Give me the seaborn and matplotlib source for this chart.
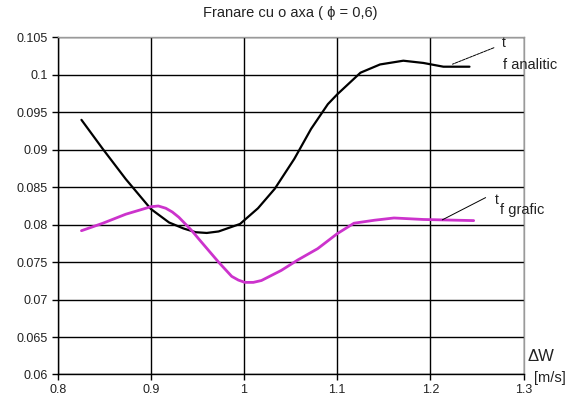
import matplotlib
matplotlib.use("Agg")
import matplotlib.pyplot as plt
import seaborn as sns
import pandas as pd

# Data
x_analitic = [0.8255, 0.8485, 0.873, 0.900, 0.9195, 0.935, 0.948, 0.960, 0.9727, 0.9957, 1.015, 1.033,
              1.054, 1.072, 1.090, 1.100, 1.125, 1.146, 1.171, 1.1925, 1.214, 1.242]
y_analitic = [0.0940, 0.0901, 0.0861, 0.0821, 0.0803, 0.0795, 0.0790, 0.0789, 0.0791, 0.0801, 0.0822, 0.0848,
              0.0888, 0.0928, 0.0961, 0.0974, 0.1003, 0.1014, 0.1019, 0.1016, 0.1011, 0.1011]

x_grafic = [0.8255, 0.8485, 0.873, 0.900, 0.908, 0.916, 0.923, 0.930, 0.944, 0.9514, 0.9727, 0.9868,
            0.994, 1.001, 1.010, 1.0187, 1.040, 1.0578, 1.079, 1.100, 1.118, 1.140, 1.161, 1.1925, 1.2465]
y_grafic = [0.0792, 0.0802, 0.0814, 0.0824, 0.0825, 0.0822, 0.0817, 0.0810, 0.0792, 0.0781, 0.0750, 0.0731,
            0.0726, 0.0723, 0.0723, 0.07255, 0.0739, 0.0753, 0.0768, 0.0788, 0.0802, 0.0806, 0.0809, 0.0807, 0.08055]

x_ticks = [0.8, 0.9, 1.0, 1.1, 1.2, 1.3]
x_tick_labels = ["0.8", "0.9", "1", "1.1", "1.2", "1.3"]
y_ticks = [0.06, 0.065, 0.07, 0.075, 0.08, 0.085, 0.09, 0.095, 0.1, 0.105]
y_tick_labels = ["0.06", "0.065", "0.07", "0.075", "0.08", "0.085", "0.09", "0.095", "0.1", "0.105"]

title_left = "Franare cu o axa ( "
title_phi = "\u03d5"
title_right = " = 0,6)"

df_a = pd.DataFrame({"x": x_analitic, "y": y_analitic})
df_g = pd.DataFrame({"x": x_grafic, "y": y_grafic})

sns.set_style("white")
plt.rcParams['font.family'] = ['Liberation Sans', 'DejaVu Sans']

fig = plt.figure(figsize=(5.8, 4.01), dpi=100)
ax = fig.add_axes([0.0995, 0.0661, 0.8031, 0.8404])

sns.lineplot(data=df_a, x="x", y="y", ax=ax, color="black", linewidth=1.6, sort=False)
sns.lineplot(data=df_g, x="x", y="y", ax=ax, color="#cc33cc", linewidth=2.0, sort=False)

ax.set_xlim(0.8, 1.3)
ax.set_ylim(0.06, 0.105)
ax.set_xticks(x_ticks)
ax.set_xticklabels(x_tick_labels)
ax.set_yticks(y_ticks)
ax.set_yticklabels(y_tick_labels)
ax.set_xlabel("")
ax.set_ylabel("")

ax.grid(True, color="black", linewidth=1.0)
ax.set_axisbelow(True)
for s in ["left", "bottom"]:
    ax.spines[s].set_color("black")
    ax.spines[s].set_linewidth(1.0)
for s in ["top", "right"]:
    ax.spines[s].set_color("#9a9a9a")
    ax.spines[s].set_linewidth(1.0)

ax.tick_params(axis="both", which="major", direction="out", length=4, width=1,
               color="black", labelsize=9, labelcolor="#222222", pad=3, left=True, bottom=True)

# title built from three pieces so the phi can be larger
t1 = fig.text(0.5, 0.968, title_left + title_phi + title_right, fontsize=10.5, color="#222222",
              ha="center", va="center")

# annotations
ax.annotate("", xy=(1.221, 0.1013), xytext=(1.271, 0.10377), xycoords="data",
            arrowprops=dict(arrowstyle="-", color="black", linewidth=0.7, linestyle=(0, (3, 1))),
            annotation_clip=False)
ax.text(1.2765, 0.10422, "t", fontsize=10, color="#222222", ha="left", va="center", clip_on=False)
ax.text(1.278, 0.10132, "f analitic", fontsize=10.5, color="#222222", ha="left", va="center", clip_on=False)

ax.annotate("", xy=(1.2102, 0.08048), xytext=(1.262, 0.08379), xycoords="data",
            arrowprops=dict(arrowstyle="-", color="black", linewidth=0.7),
            annotation_clip=False)
ax.text(1.269, 0.08335, "t", fontsize=10, color="#222222", ha="left", va="center", clip_on=False)
ax.text(1.2746, 0.08192, "f grafic", fontsize=10.5, color="#222222", ha="left", va="center", clip_on=False)

ax.text(1.3046, 0.06237, "\u0394W", fontsize=12, color="#222222", ha="left", va="center", clip_on=False)
ax.text(1.311, 0.05956, "[m/s]", fontsize=10.5, color="#222222", ha="left", va="center", clip_on=False)

fig.savefig("out.png", dpi=100)
